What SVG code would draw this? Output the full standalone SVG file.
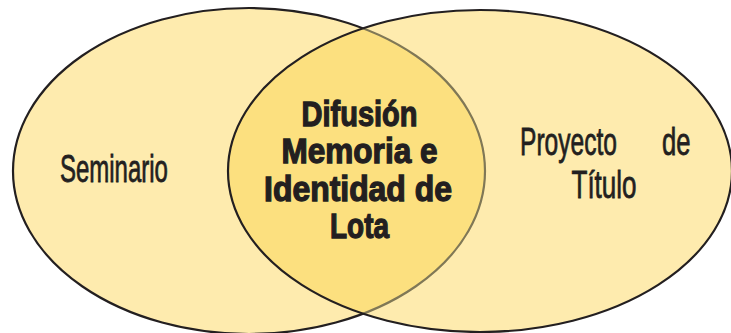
<svg xmlns="http://www.w3.org/2000/svg" width="731" height="333" viewBox="0 0 731 333">
  <style>
    .fill { fill: #FEEBAE; }
    .ring { fill: none; stroke: #231F20; stroke-width: 2.2; }
    .lbl { font-family: "Liberation Sans", Arial, sans-serif; font-size: 39px; fill: #231F20; stroke: #231F20; stroke-width: 0.8; }
    .ctr { font-family: "Liberation Sans", Arial, sans-serif; font-size: 35px; font-weight: bold; fill: #231F20; stroke: #231F20; stroke-width: 1.3; text-anchor: middle; }
  </style>
  <defs>
    <clipPath id="clipRight">
      <ellipse cx="480" cy="171" rx="252" ry="161"/>
    </clipPath>
  </defs>
  <rect width="731" height="333" fill="#FFFFFF"/>
  <g id="node-seminario">
    <ellipse class="fill" cx="249" cy="171" rx="236" ry="163"/>
    <ellipse class="ring" cx="249" cy="171" rx="236" ry="163"/>
  </g>
  <g id="node-proyecto">
    <ellipse class="fill" cx="480" cy="171" rx="252" ry="161"/>
  </g>
  <g id="node-interseccion">
    <ellipse cx="249" cy="171" rx="236" ry="163" fill="#FCE07F" clip-path="url(#clipRight)"/>
    <ellipse cx="249" cy="171" rx="236" ry="163" fill="none" stroke="#807856" stroke-width="2.2" clip-path="url(#clipRight)"/>
  </g>
  <g id="node-proyecto-ring">
    <ellipse class="ring" cx="480" cy="171" rx="252" ry="161"/>
  </g>
  <g id="labels">
    <text class="lbl" transform="translate(60,181.5) scale(0.615,1)">Seminario</text>
    <text class="lbl" transform="translate(520,155) scale(0.63,1)">Proyecto</text>
    <text class="lbl" transform="translate(662,155) scale(0.657,1)">de</text>
    <text class="lbl" transform="translate(571.5,198.3) scale(0.667,1)">Título</text>
    <text class="ctr" transform="translate(359.5,126) scale(0.829,1)">Difusión</text>
    <text class="ctr" transform="translate(359.5,162.7) scale(0.901,1)">Memoria e</text>
    <text class="ctr" transform="translate(358,200.7) scale(0.912,1)">Identidad de</text>
    <text class="ctr" transform="translate(359.5,238.3) scale(0.798,1)">Lota</text>
  </g>
</svg>
